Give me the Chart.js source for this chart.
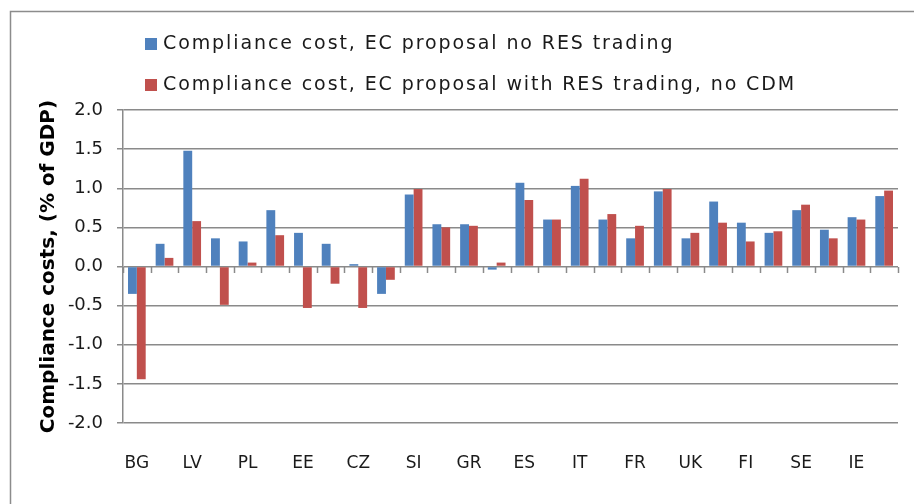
<!DOCTYPE html>
<html>
<head>
<meta charset="utf-8">
<script src="https://cdn.jsdelivr.net/npm/chart.js@4"></script>
<style>
  html, body { margin: 0; padding: 0; background: #fff; }
  #wrap { width: 914px; height: 504px; }
</style>
</head>
<body>
<div id="wrap"><canvas id="costChart" width="914" height="504"></canvas></div>
<script>
/* ================= DATA ================= */
const countries = ["BG", "", "LV", "", "PL", "", "EE", "", "CZ", "", "SI", "", "GR", "",
                   "ES", "", "IT", "", "FR", "", "UK", "", "FI", "", "SE", "", "IE", ""];
const noResTrading = [-0.35, 0.29, 1.48, 0.36, 0.32, 0.72, 0.43, 0.29, 0.03, -0.35,
                      0.92, 0.54, 0.54, -0.04, 1.07, 0.60, 1.03, 0.60, 0.36, 0.96,
                      0.36, 0.83, 0.56, 0.43, 0.72, 0.47, 0.63, 0.90];
const withResTrading = [-1.44, 0.11, 0.58, -0.49, 0.05, 0.40, -0.53, -0.22, -0.53, -0.17,
                        0.99, 0.50, 0.52, 0.05, 0.85, 0.60, 1.12, 0.67, 0.52, 0.99,
                        0.43, 0.56, 0.32, 0.45, 0.79, 0.36, 0.60, 0.97];
const seriesNames = ["Compliance cost, EC proposal no RES trading",
                     "Compliance cost, EC proposal with RES trading, no CDM"];
const yTicks = [-2.0, -1.5, -1.0, -0.5, 0.0, 0.5, 1.0, 1.5, 2.0];

const BLUE = "#4F81BD";
const RED = "#C0504D";
const GRID = "#8a8a8a";
const FONT = "'DejaVu Sans', sans-serif";

/* ================= PLUGINS ================= */
// outer frame (only top and left edge visible in the crop)
const framePlugin = {
  id: "frame",
  beforeDraw(chart) {
    const ctx = chart.ctx;
    ctx.save();
    ctx.strokeStyle = "#8c8c8c";
    ctx.lineWidth = 1.5;
    ctx.beginPath();
    ctx.moveTo(10.5, chart.height + 5);
    ctx.lineTo(10.5, 11.5);
    ctx.lineTo(chart.width + 5, 11.5);
    ctx.stroke();
    ctx.restore();
  }
};

// two-row legend, left aligned
const legendPlugin = {
  id: "rowLegend",
  afterDraw(chart) {
    const ctx = chart.ctx;
    ctx.save();
    ctx.font = "19px " + FONT;
    ctx.letterSpacing = "1.9px";
    ctx.textBaseline = "middle";
    const rows = [44, 85];
    chart.data.datasets.forEach((ds, i) => {
      ctx.fillStyle = ds.backgroundColor;
      ctx.fillRect(145, rows[i] - 6, 12, 12);
      ctx.fillStyle = "#1a1a1a";
      ctx.fillText(ds.label, 163, rows[i]);
    });
    ctx.restore();
  }
};

// small category ticks hanging below the zero line
const zeroTicksPlugin = {
  id: "zeroTicks",
  afterDatasetsDraw(chart) {
    const x = chart.scales.x, y = chart.scales.y;
    const y0 = Math.round(y.getPixelForValue(0));
    const n = chart.data.labels.length;
    const step = (x.right - x.left) / n;
    const ctx = chart.ctx;
    ctx.save();
    ctx.strokeStyle = GRID;
    ctx.lineWidth = 1.5;
    ctx.beginPath();
    for (let i = 0; i <= n; i++) {
      const px = Math.round(x.left + i * step) + 0.5;
      ctx.moveTo(px, y0);
      ctx.lineTo(px, y0 + 6);
    }
    ctx.stroke();
    ctx.restore();
  }
};

/* ================= CHART ================= */
new Chart(document.getElementById("costChart"), {
  type: "bar",
  data: {
    labels: countries,
    datasets: [
      { label: seriesNames[0], data: noResTrading, backgroundColor: BLUE },
      { label: seriesNames[1], data: withResTrading, backgroundColor: RED }
    ]
  },
  options: {
    responsive: false,
    animation: false,
    maintainAspectRatio: false,
    layout: { padding: { left: 37, top: 110, right: 16, bottom: 20 } },
    datasets: { bar: { categoryPercentage: 0.64, barPercentage: 1.0 } },
    plugins: {
      legend: { display: false },
      tooltip: { enabled: false }
    },
    scales: {
      x: {
        grid: { display: false },
        border: { display: false },
        ticks: {
          autoSkip: false,
          maxRotation: 0,
          padding: 22,
          color: "#1a1a1a",
          font: { family: FONT, size: 17 }
        },
        afterFit(scale) { scale.height = 61; }
      },
      y: {
        min: -2,
        max: 2,
        afterBuildTicks(scale) { scale.ticks = yTicks.map(v => ({ value: v })); },
        grid: { color: GRID, lineWidth: 1.5, tickLength: 6 },
        border: { display: true, color: GRID, width: 1.5 },
        ticks: {
          padding: 14,
          color: "#1a1a1a",
          font: { family: FONT, size: 18 },
          callback: v => v.toFixed(1)
        },
        title: {
          display: true,
          text: "Compliance costs, (% of GDP)",
          color: "#000",
          font: { family: FONT, size: 20, weight: "bold" },
          padding: { top: 0, bottom: 0 }
        },
        afterFit(scale) { scale.width = 86; }
      }
    }
  },
  plugins: [framePlugin, legendPlugin, zeroTicksPlugin]
});
</script>
</body>
</html>
